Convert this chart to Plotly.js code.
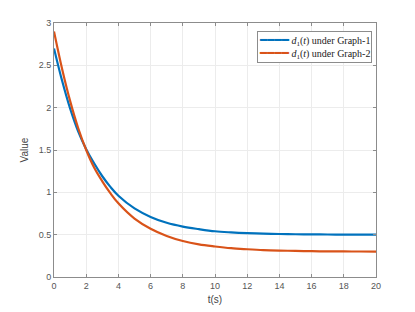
<!DOCTYPE html>
<html><head><meta charset="utf-8">
<script src="https://cdn.plot.ly/plotly-3.0.1.min.js"></script>
<style>html,body{margin:0;padding:0;background:#fff;}#plot{width:415px;height:312px;}</style>
</head><body><div id="plot"></div>
<script>
const tVals = [0,0.5,1,1.5,2,2.5,3,3.5,4,5,6,7,8,9,10,11,12,13,14,15,16,17,18,19,20];
const graph1 = [2.70,2.32,1.99,1.72,1.51,1.34,1.19,1.065,0.96,0.81,0.71,0.64,0.595,0.565,0.54,0.527,0.518,0.512,0.508,0.505,0.503,0.502,0.501,0.50,0.50];
const graph2 = [2.90,2.46,2.08,1.76,1.50,1.29,1.13,0.99,0.87,0.69,0.57,0.485,0.425,0.385,0.36,0.34,0.328,0.318,0.312,0.308,0.305,0.303,0.302,0.301,0.30];
const seriesNames = ['<i>d</i><sub>1</sub>(<i>t</i>) under Graph-1','<i>d</i><sub>1</sub>(<i>t</i>) under Graph-2'];
const seriesColors = ['#0072BD', '#D95319'];
const xTicks = [0,2,4,6,8,10,12,14,16,18,20];
const yTicks = [0,0.5,1,1.5,2,2.5,3];
const yTickText = ['0','0.5','1','1.5','2','2.5','3'];

const traces = [graph1, graph2].map((ys, i) => ({
  x: tVals, y: ys, name: seriesNames[i], mode: 'lines',
  line: {color: seriesColors[i], width: 2.2, shape: 'spline', smoothing: 1}
}));
const axisCommon = {
  showline: true, mirror: 'ticks', linecolor: '#8c8c8c', linewidth: 1,
  ticks: 'inside', ticklen: 3, tickcolor: '#8c8c8c',
  showgrid: true, gridcolor: '#ececec', gridwidth: 1, zeroline: false,
  tickfont: {family: 'Liberation Sans, Arial, sans-serif', size: 9, color: '#555'}
};
const legendText = seriesNames.map((n, i) =>
  '<span style="color:' + seriesColors[i] + ';font-family:DejaVu Sans;font-size:12px">━━━━</span> ' + n
).join('<br>');
const layout = {
  width: 415, height: 312,
  margin: {l: 54, r: 39, t: 23, b: 35},
  paper_bgcolor: '#fff', plot_bgcolor: '#fff',
  showlegend: false,
  xaxis: Object.assign({}, axisCommon, {range: [0, 20], tickvals: xTicks,
    title: {text: 't(s)', font: {family: 'Liberation Sans, Arial, sans-serif', size: 10, color: '#444'}, standoff: 6}}),
  yaxis: Object.assign({}, axisCommon, {range: [0, 3], tickvals: yTicks, ticktext: yTickText,
    title: {text: 'Value', font: {family: 'Liberation Sans, Arial, sans-serif', size: 10, color: '#444'}, standoff: 8}}),
  annotations: [{
    xref: 'paper', yref: 'paper', x: 0.988, y: 0.969, xanchor: 'right', yanchor: 'top',
    text: legendText, showarrow: false, align: 'left',
    font: {family: 'Liberation Serif, Times New Roman, serif', size: 10, color: '#222'},
    bgcolor: '#fff', bordercolor: '#8c8c8c', borderwidth: 1, borderpad: 1
  }]
};
Plotly.newPlot('plot', traces, layout, {staticPlot: true, displayModeBar: false});
</script></body></html>
